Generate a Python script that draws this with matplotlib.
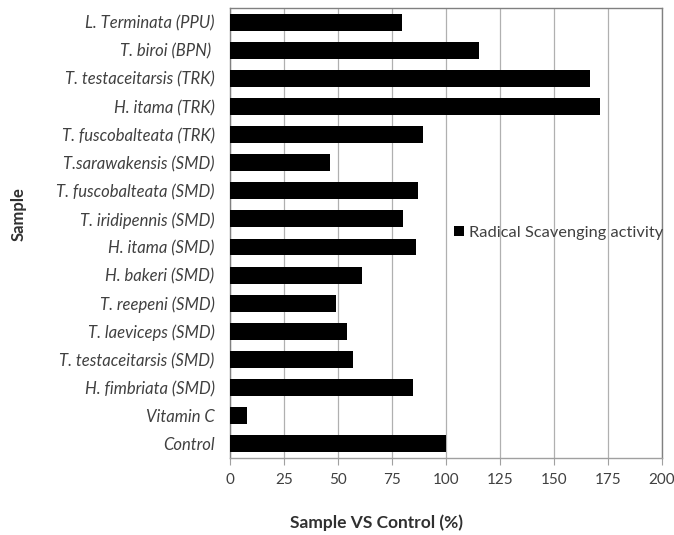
import matplotlib
matplotlib.use('Agg')
import matplotlib.pyplot as plt

samples = ['L. Terminata (PPU)', 'T. biroi (BPN) ', 'T. testaceitarsis (TRK)', 'H. itama (TRK)',
           'T. fuscobalteata (TRK)', 'T.sarawakensis (SMD)', 'T. fuscobalteata (SMD)',
           'T. iridipennis (SMD)', 'H. itama (SMD)', 'H. bakeri (SMD)', 'T. reepeni (SMD)',
           'T. laeviceps (SMD)', 'T. testaceitarsis (SMD)', 'H. fimbriata (SMD)',
           'Vitamin C', 'Control']
activity = [79.6, 115.2, 166.6, 171.2, 89.6, 46.6, 87.2, 80.0, 86.4, 61.0, 49.1,
            54.3, 56.8, 85.0, 7.9, 100]
xticks = [0, 25, 50, 75, 100, 125, 150, 175, 200]

plt.rcParams['font.family'] = ['Lato', 'DejaVu Sans']

fig = plt.figure(figsize=(6.74, 5.35), dpi=100)
ax = fig.add_axes([0.341, 0.144, 0.641, 0.841])

pos = list(range(len(samples)))[::-1]
ax.barh(pos, activity, height=0.6, color='black', label='Radical Scavenging activity', zorder=3)

ax.set_xlim(0, 200)
ax.set_ylim(-0.5, len(samples) - 0.5)
ax.set_xticks(xticks)
ax.set_xticklabels([str(t) for t in xticks], fontsize=11, color='#404040')
ax.set_yticks(pos)
ax.set_yticklabels(samples, fontsize=12, style='italic', color='#404040')
ax.tick_params(axis='y', length=0, pad=11)
ax.tick_params(axis='x', length=5, color='#a0a0a0', pad=6)
ax.grid(axis='x', color='#b0b0b0', linewidth=0.9, zorder=0)
for s in ax.spines.values():
    s.set_color('#808080')
    s.set_linewidth(1.0)
ax.spines['bottom'].set_color('#a0a0a0')

ax.legend(loc='center left', bbox_to_anchor=(0.512, 0.5), frameon=False, fontsize=11.8,
          handlelength=0.6, handleheight=0.6, handletextpad=0.3, labelcolor='#404040',
          borderaxespad=0.0, borderpad=0.2)

fig.text(0.558, 0.008, 'Sample VS Control (%)', fontsize=12.5, fontweight='bold',
         color='#303030', ha='center', va='bottom')
fig.text(0.027, 0.60, 'Sample', fontsize=12, fontweight='bold', color='#303030',
         rotation=90, ha='center', va='center')

fig.savefig('out.png', dpi=100)
